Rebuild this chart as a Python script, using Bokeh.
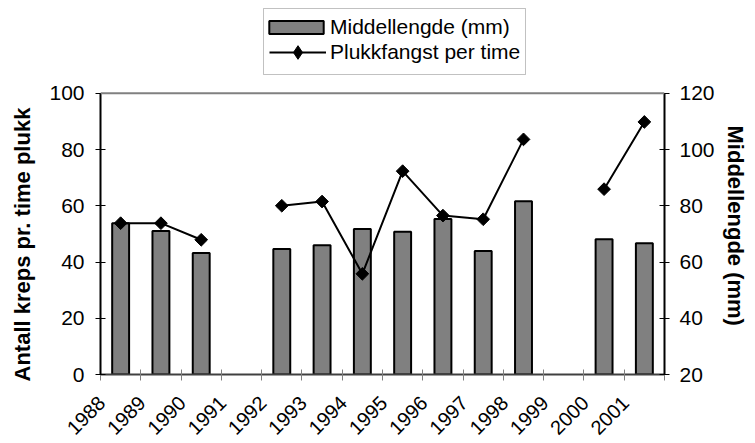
import math
from bokeh.plotting import figure
from bokeh.models import (Range1d, LinearAxis, FixedTicker, Legend, LegendItem,
                          ColumnDataSource, Span, BoxAnnotation, Title)
from bokeh.embed import file_html
from bokeh.resources import INLINE

# ---- data ----
years = ["1988", "1989", "1990", "1991", "1992", "1993", "1994",
         "1995", "1996", "1997", "1998", "1999", "2000", "2001"]
middellengde_mm = [73.8, 71.0, 63.2, None, 64.6, 66.0, 71.7,
                   70.8, 75.3, 63.9, 81.6, None, 68.1, 66.7]
plukkfangst_per_time = [53.8, 53.8, 47.9, None, 60.0, 61.5, 35.8,
                        72.3, 56.5, 55.2, 83.6, None, 65.9, 89.8]
left_ticks = [0, 20, 40, 60, 80, 100]
right_ticks = [20, 40, 60, 80, 100, 120]
left_title = "Antall kreps pr. time plukk"
right_title = "Middellengde (mm)"
bar_label = "Middellengde (mm)"
line_label = "Plukkfangst per time"

# ---- layout / style ----
FONT = "Liberation Sans"
SHIFT = 0.47          # category centre relative to its (rotated) label anchor
BAR_W = 0.42
W, H = 755, 443
B_LEFT, B_RIGHT, B_BOTTOM = 98, 88, 68
PLOT_TOP_PX = 93      # top of the value area (legend sits above it)
frame_h = H - B_BOTTOM
scale = frame_h / (frame_h - PLOT_TOP_PX)   # frame extends above the value area

L0, L1 = left_ticks[0], left_ticks[-1]
R0, R1 = right_ticks[0], right_ticks[-1]

n = len(years)
centres = [i + SHIFT for i in range(n)]

bar_src = ColumnDataSource(dict(
    x=[c for c, v in zip(centres, middellengde_mm) if v is not None],
    top=[v for v in middellengde_mm if v is not None],
))
line_src = ColumnDataSource(dict(
    x=centres,
    y=[float("nan") if v is None else v for v in plukkfangst_per_time],
))

p = figure(width=W, height=H,
           x_range=Range1d(SHIFT - 0.5, n - 0.5 + SHIFT),
           y_range=Range1d(L0, L0 + (L1 - L0) * scale),
           output_backend="svg", toolbar_location=None,
           min_border_left=B_LEFT, min_border_right=B_RIGHT,
           min_border_top=0, min_border_bottom=B_BOTTOM)
p.extra_y_ranges = {"mm": Range1d(R0, R0 + (R1 - R0) * scale)}

p.background_fill_color = "white"
p.border_fill_color = "white"
p.outline_line_color = None
p.xgrid.grid_line_color = None
p.ygrid.grid_line_color = None

# top border of the plot area
p.add_layout(Span(location=L1, dimension="width", line_color="#808080",
                  line_width=2))

bars = p.vbar(x="x", top="top", bottom=R0, width=BAR_W, source=bar_src,
              y_range_name="mm", fill_color="#808080",
              line_color="black", line_width=2)
line = p.line(x="x", y="y", source=line_src, line_color="black", line_width=2)
# legend key for the markers (legend keys are never rotated); it lies hidden
# under the rotated squares in the plot itself
key = p.scatter(x="x", y="y", source=line_src, marker="diamond", size=8,
                fill_color="black", line_color="black")
pts = p.scatter(x="x", y="y", source=line_src, marker="square",
                angle=math.pi / 4, size=9, fill_color="black",
                line_color="black")

# x axis
xa = p.xaxis[0]
xa.ticker = FixedTicker(ticks=list(range(n)),
                        minor_ticks=[i + SHIFT - 0.5 for i in range(n + 1)])
xa.major_label_overrides = {i: y for i, y in enumerate(years)}
xa.major_label_orientation = math.pi / 4
xa.major_tick_line_color = None
xa.major_tick_in = 0
xa.major_tick_out = 0
xa.minor_tick_line_color = "#808080"
xa.minor_tick_in = 5
xa.minor_tick_out = 6
xa.axis_line_color = "#404040"
xa.axis_line_width = 2
xa.major_label_text_font = FONT
xa.major_label_text_font_size = "20px"
xa.major_label_text_color = "black"
xa.major_label_standoff = 19

# left axis
ya = p.yaxis[0]
ya.ticker = FixedTicker(ticks=left_ticks)
ya.bounds = (L0, L1)

# right axis
ra = LinearAxis(y_range_name="mm", ticker=FixedTicker(ticks=right_ticks),
                bounds=(R0, R1))
p.add_layout(ra, "right")

for ax in (ya, ra):
    ax.axis_line_color = "black"
    ax.axis_line_width = 2
    ax.major_tick_in = 5
    ax.major_tick_out = 5
    ax.major_tick_line_color = "black"
    ax.minor_tick_line_color = None
    ax.major_label_text_font = FONT
    ax.major_label_text_font_size = "21px"
    ax.major_label_text_color = "black"
ya.major_label_standoff = 11
ra.major_label_standoff = 10

# axis titles (as side titles so they can be placed along the value area)
lt = Title(text=left_title, align="left", vertical_align="top",
           offset=-7, standoff=19, text_font=FONT, text_font_size="22px",
           text_font_style="bold", text_color="black")
p.add_layout(lt, "left")
rt = Title(text=right_title, align="left", vertical_align="bottom",
           offset=125, standoff=11, text_font=FONT, text_font_size="22px",
           text_font_style="bold", text_color="black")
p.add_layout(rt, "right")

# legend box
p.add_layout(BoxAnnotation(left=163, right=425, bottom=300, top=366,
                           left_units="screen", right_units="screen",
                           bottom_units="screen", top_units="screen",
                           fill_color="white", fill_alpha=1,
                           line_color="#333333", line_width=1))

leg_common = dict(border_line_color=None, background_fill_alpha=0,
                  padding=0, margin=0, spacing=0,
                  label_text_font=FONT, label_text_font_size="21px",
                  label_text_color="black")
legend_a = Legend(items=[LegendItem(label=bar_label, renderers=[bars])],
                  location=(162, 335), glyph_width=68, glyph_height=16,
                  label_standoff=0, **leg_common)
legend_b = Legend(items=[LegendItem(label=line_label, renderers=[line, key])],
                  location=(169, 305), glyph_width=57, glyph_height=34,
                  label_standoff=4, **leg_common)
p.add_layout(legend_a)
p.add_layout(legend_b)

open("out.html", "w").write(file_html(p, INLINE))
